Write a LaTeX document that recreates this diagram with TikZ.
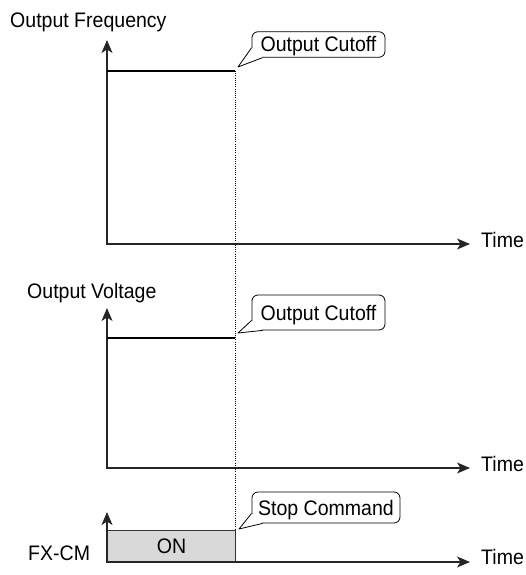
\documentclass[tikz,border=0pt]{standalone}
\usepackage{fontspec}
\setmainfont{Liberation Sans}[FakeStretch=0.93]
\usetikzlibrary{arrows.meta}
\begin{document}
\begin{tikzpicture}[x=1pt,y=-1pt,
  every node/.style={font=\fontsize{21}{25}\selectfont, inner sep=0pt},
  axis/.style={line width=1.4pt, draw=black!85, line join=miter,
    {Stealth[length=13pt,width=11pt,inset=3.5pt]}-{Stealth[length=13pt,width=11pt,inset=3.5pt]}},
  level/.style={line width=2.2pt},
  guide/.style={line width=0.7pt, dash pattern=on 1pt off 1.2pt},
  callbox/.style={draw, line width=0.8pt, rounded corners=6pt, text height=15pt, text depth=0pt, align=center},
  tail/.style={line width=0.8pt, line join=round}
]
\useasboundingbox (0,0) rectangle (525,575);

% coordinates
\coordinate (o1) at (107,244);
\coordinate (y1) at (107,40);
\coordinate (x1) at (470,244);
\coordinate (o2) at (107,468);
\coordinate (y2) at (107,308);
\coordinate (x2) at (470,468);
\coordinate (o3) at (107,562);
\coordinate (y3) at (107,512);
\coordinate (x3) at (470,562);
\coordinate (l1a) at (107,71);
\coordinate (l1b) at (235,71);
\coordinate (l2a) at (107,338);
\coordinate (l2b) at (235,338);
\coordinate (gEnd) at (235,531);
\coordinate (t1) at (238,67);
\coordinate (t2) at (238,333);
\coordinate (t3) at (239,529);

% labels
\node[anchor=base west] (lf) at (10,28) {Output Frequency};
\node[anchor=base west] (lv) at (27,298) {Output Voltage};
\node[anchor=base west] (lfx) at (28,560) {FX-CM};
\node[anchor=base west] (tm1) at (481,247) {Time};
\node[anchor=base west] (tm2) at (481,471) {Time};
\node[anchor=base west] (tm3) at (481,564) {Time};

% dotted guide
\draw[guide] (l1b) -- (gEnd);

% ON box
\node[draw=black!80, fill=black!15, line width=1pt, minimum width=128pt, minimum height=31pt,
  text height=15pt, text depth=0pt, anchor=south west] (on) at (o3) {ON};

% axes
\draw[axis] (y1) -- (o1) -- (x1);
\draw[axis] (y2) -- (o2) -- (x2);
\draw[axis] (y3) -- (o3) -- (x3);

% level lines
\draw[level] (l1a) -- (l1b);
\draw[level] (l2a) -- (l2b);

% callouts
\node[callbox, minimum width=133pt, minimum height=25.5pt] (c1) at (318.5,44.5) {Output Cutoff};
\node[callbox, minimum width=133pt, minimum height=35pt] (c2) at (318.5,312.5) {Output Cutoff};
\node[callbox, minimum width=148pt, minimum height=31pt] (c3) at (326,507.5) {Stop Command};

\foreach \c/\t in {c1/t1, c2/t2, c3/t3}{
  \fill[white] ([yshift=10pt]\c.south west) -- (\t) -- ([xshift=11pt]\c.south west) -- cycle;
  \draw[tail] ([yshift=10pt]\c.south west) -- (\t) -- ([xshift=11pt]\c.south west);
}
\end{tikzpicture}
\end{document}
